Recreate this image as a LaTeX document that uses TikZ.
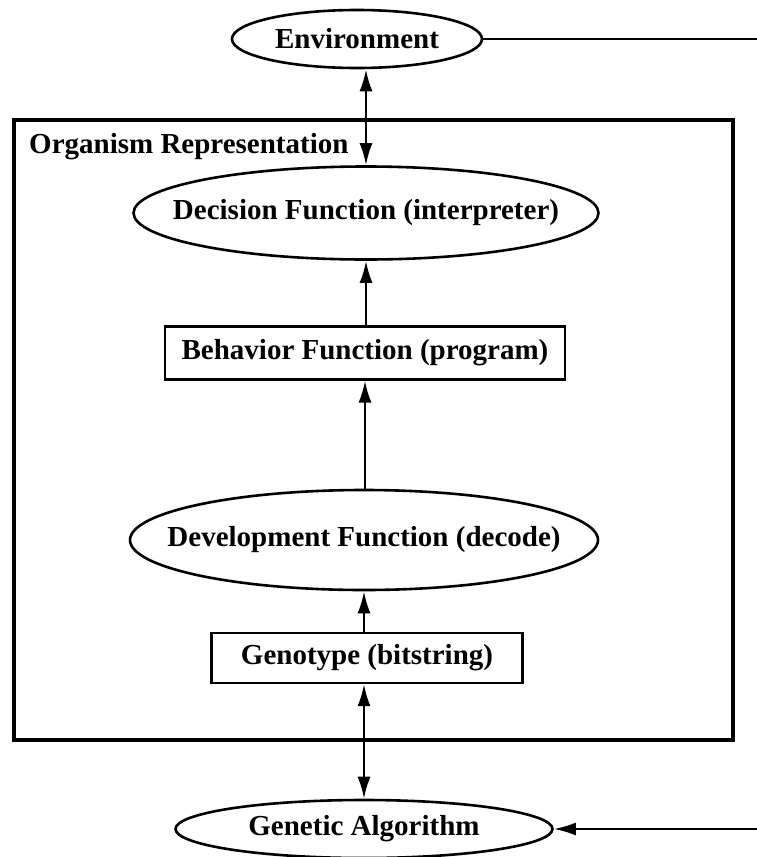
\documentclass[tikz,border=0pt]{standalone}
\usepackage{fontspec}
\setmainfont{Liberation Serif}
\usetikzlibrary{shapes.geometric, arrows.meta}

\tikzset{
    oval/.style={ellipse, draw, line width=2.6pt, inner sep=0pt},
    flatbox/.style={rectangle, draw, line width=2.2pt, inner sep=0pt},
    link/.style={line width=2.4pt, -{Latex[length=22pt,width=13pt]}},
    twoway/.style={line width=2.4pt, {Latex[length=22pt,width=13pt]}-{Latex[length=22pt,width=13pt]}},
}

\begin{document}
\begin{tikzpicture}[x=1pt, y=-1pt, font=\fontsize{29}{32}\selectfont\bfseries]
    \useasboundingbox (0,0) rectangle (757,857);

    % outside the organism
    \node[oval, minimum width=250, minimum height=58, label=center:{Environment}] (env) at (357,39) {};
    \node[oval, minimum width=377, minimum height=58, label=center:{Genetic Algorithm}] (ga) at (364,829) {};
    \coordinate (envout) at (757,39);
    \coordinate (gain) at (757,829);

    % organism representation
    \draw[line width=3.8pt] (14,120) rectangle (733,740);
    \node[anchor=base west, inner sep=0pt] (orglbl) at (29,153) {Organism Representation};

    \node[oval, minimum width=465, minimum height=93, label=center:{Decision Function (interpreter)}] (decide) at (366,213) {};
    \node[flatbox, minimum width=400, minimum height=53] (behave) at (365,353) {Behavior Function (program)};
    \node[oval, minimum width=468, minimum height=100, label=center:{Development Function (decode)}] (devel) at (364,540) {};
    \node[flatbox, minimum width=311, minimum height=50] (geno) at (367,658) {Genotype (bitstring)};

    % connectors
    \draw[line width=2.4pt] (env.east) -- (envout);
    \draw[link] (gain) -- (ga.east);
    \draw[twoway] (env.south -| decide.north) -- (decide.north);
    \draw[link] (behave.north -| decide.south) -- (decide.south);
    \draw[link] (devel.north -| behave.south) -- (behave.south);
    \draw[link] (geno.north -| devel.south) -- (devel.south);
    \draw[twoway] (geno.south -| ga.north) -- (ga.north);
\end{tikzpicture}
\end{document}
